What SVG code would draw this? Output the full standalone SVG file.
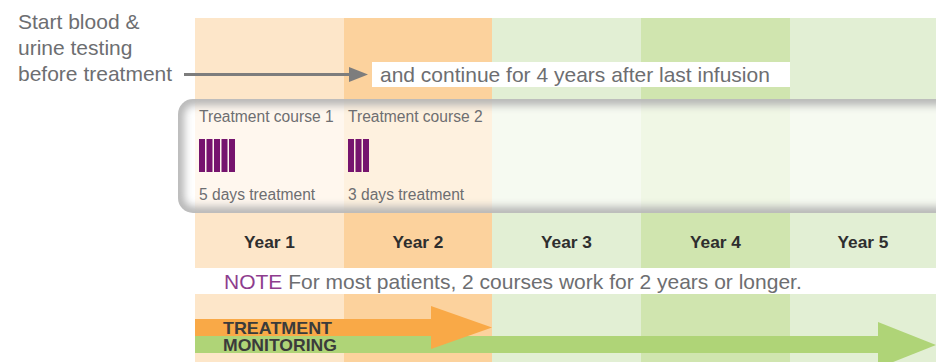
<svg xmlns="http://www.w3.org/2000/svg" width="936" height="362" viewBox="0 0 936 362">
<style>
.lbl{font-family:"Liberation Sans",Arial,sans-serif;font-size:21px;fill:#6d6e71}
.sm{font-family:"Liberation Sans",Arial,sans-serif;font-size:15.6px;fill:#6d6e71}
.yr{font-family:"Liberation Sans",Arial,sans-serif;font-size:17.3px;font-weight:bold;fill:#2e2e2e;text-anchor:middle}
.bar{font-family:"Liberation Sans",Arial,sans-serif;font-size:17px;font-weight:bold;fill:#3b3b3b}
.day{fill:#76146e}
</style>
<defs>
<clipPath id="boxclip"><rect x="178" y="99" width="790" height="114" rx="15"/></clipPath>
<filter id="blur" x="-5%" y="-30%" width="110%" height="160%"><feGaussianBlur stdDeviation="4.5"/></filter>
</defs>
<rect width="936" height="362" fill="#fff"/>
<g id="columns">
<rect x="195" y="18" width="149" height="250" fill="#fde6c9"/>
<rect x="344" y="18" width="148" height="250" fill="#fcd29d"/>
<rect x="492" y="18" width="149" height="250" fill="#e2efd4"/>
<rect x="641" y="18" width="149" height="250" fill="#d0e5af"/>
<rect x="790" y="18" width="146" height="250" fill="#e2efd4"/>
<rect x="195" y="294" width="149" height="68" fill="#fde6c9"/>
<rect x="344" y="294" width="148" height="68" fill="#fcd29d"/>
<rect x="492" y="294" width="149" height="68" fill="#e2efd4"/>
<rect x="641" y="294" width="149" height="68" fill="#d0e5af"/>
<rect x="790" y="294" width="146" height="68" fill="#e2efd4"/>
</g>
<g id="start-label">
<text class="lbl" x="18" y="29">Start blood &amp;</text>
<text class="lbl" x="18" y="55">urine testing</text>
<text class="lbl" x="18" y="81">before treatment</text>
</g>
<g id="continue-label">
<rect x="372" y="62" width="418" height="25" fill="#fff"/>
<text class="lbl" x="380" y="82">and continue for 4 years after last infusion</text>
</g>
<g id="connectors">
<line x1="184" y1="74.5" x2="352" y2="74.5" stroke="#7d7d7d" stroke-width="3"/>
<polygon points="349,67 368,74.5 349,82" fill="#7d7d7d"/>
</g>
<g id="treatment-box">
<rect x="178" y="99" width="790" height="114" rx="15" fill="#fff" fill-opacity="0.68"/>
<rect x="178" y="99" width="790" height="114" rx="15" fill="none" stroke="#b2b2b2" stroke-width="12" filter="url(#blur)" clip-path="url(#boxclip)"/>
</g>
<g id="course1">
<text class="sm" x="199" y="122">Treatment course 1</text>
<rect class="day" x="199" y="139" width="6" height="33"/>
<rect class="day" x="206.5" y="139" width="6" height="33"/>
<rect class="day" x="214" y="139" width="6" height="33"/>
<rect class="day" x="221.5" y="139" width="6" height="33"/>
<rect class="day" x="229" y="139" width="6" height="33"/>
<text class="sm" x="199" y="200">5 days treatment</text>
</g>
<g id="course2">
<text class="sm" x="348" y="122">Treatment course 2</text>
<rect class="day" x="348" y="139" width="6" height="33"/>
<rect class="day" x="355.5" y="139" width="6" height="33"/>
<rect class="day" x="363" y="139" width="6" height="33"/>
<text class="sm" x="348" y="200">3 days treatment</text>
</g>
<g id="years">
<text class="yr" x="269.5" y="248">Year 1</text>
<text class="yr" x="418" y="248">Year 2</text>
<text class="yr" x="566.5" y="248">Year 3</text>
<text class="yr" x="715.5" y="248">Year 4</text>
<text class="yr" x="863" y="248">Year 5</text>
</g>
<g id="note">
<text class="lbl" x="224" y="289"><tspan fill="#8e3d8e">NOTE</tspan> For most patients, 2 courses work for 2 years or longer.</text>
</g>
<g id="monitoring-arrow">
<rect x="195" y="336" width="685" height="17" fill="#afd477"/>
<polygon points="878,322 936,345 878,368" fill="#afd477"/>
</g>
<g id="treatment-arrow">
<rect x="195" y="319" width="238" height="17" fill="#f9a947"/>
<polygon points="431,306 492,327.5 431,349" fill="#f9a947"/>
</g>
<g id="arrow-labels">
<text class="bar" x="223" y="334" textLength="109" lengthAdjust="spacingAndGlyphs">TREATMENT</text>
<text class="bar" x="223" y="350.5" textLength="114" lengthAdjust="spacingAndGlyphs">MONITORING</text>
</g>
</svg>
